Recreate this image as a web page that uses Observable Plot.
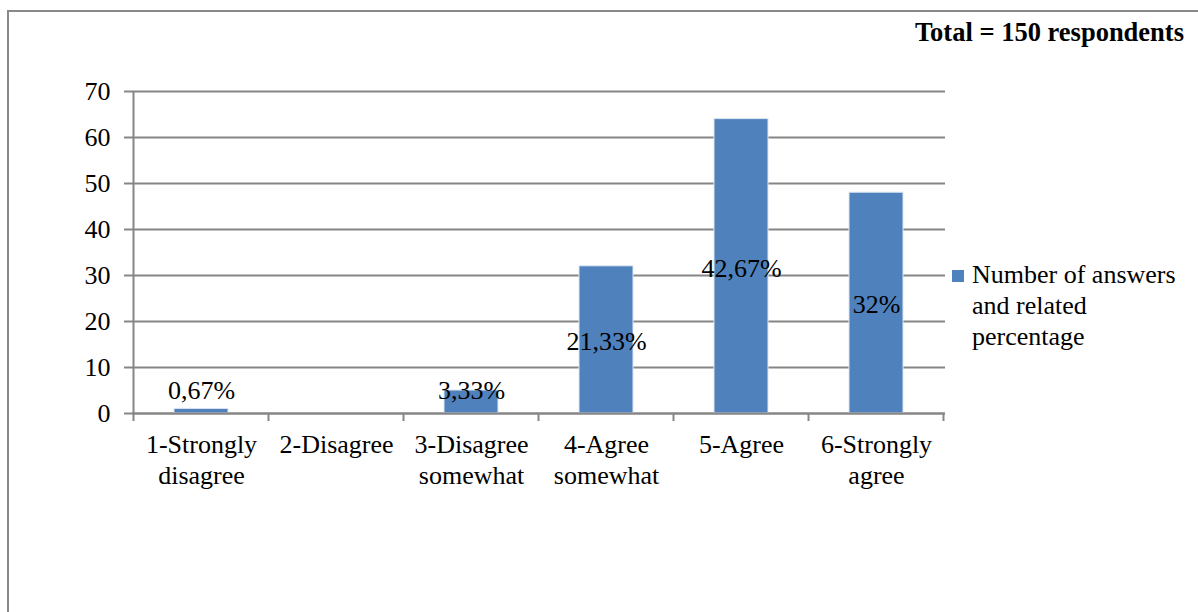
<!DOCTYPE html>
<html>
<head>
<meta charset="utf-8">
<script src="https://cdn.jsdelivr.net/npm/d3@7"></script>
<script src="https://cdn.jsdelivr.net/npm/@observablehq/plot@0.6"></script>
<style>
  html, body { margin: 0; padding: 0; background: #fff; }
  #wrap { position: relative; width: 1198px; height: 612px; overflow: hidden; font-family: "Liberation Serif", "Times New Roman", serif; }
  #frame { position: absolute; left: 7px; top: 10px; width: 1300px; height: 700px; border: 2px solid #898989; box-sizing: border-box; }
  #title { position: absolute; right: 14px; top: 17px; font-size: 26.5px; font-weight: bold; color: #000; white-space: nowrap; }
  #legend { position: absolute; left: 952px; top: 259px; font-size: 26px; line-height: 31px; color: #000; }
  #legend .sw { position: absolute; left: 0; top: 11px; width: 12px; height: 12px; background: #4F81BD; }
  #legend .txt { margin-left: 20px; white-space: pre; }
  #chart { position: absolute; left: 0; top: 0; }
</style>
</head>
<body>
<div id="wrap">
  <div id="frame"></div>
  <div id="chart"></div>
  <div id="title"></div>
  <div id="legend"><div class="sw"></div><div class="txt"></div></div>
</div>
<script>
const categories = ["1-Strongly disagree", "2-Disagree", "3-Disagree somewhat", "4-Agree somewhat", "5-Agree", "6-Strongly agree"];
const tickLabels = ["1-Strongly\ndisagree", "2-Disagree", "3-Disagree\nsomewhat", "4-Agree\nsomewhat", "5-Agree", "6-Strongly\nagree"];
const counts = [1, 0, 5, 32, 64, 48];
const percentLabels = ["0,67%", "", "3,33%", "21,33%", "42,67%", "32%"];
const yTicks = [0, 10, 20, 30, 40, 50, 60, 70];
const titleText = "Total = 150 respondents";
const seriesName = "Number of answers\nand related\npercentage";

document.getElementById("title").textContent = titleText;
document.querySelector("#legend .txt").textContent = seriesName;

const data = categories.map((c, i) => ({cat: c, value: counts[i], label: percentLabels[i], tick: tickLabels[i]}));
const tickMap = new Map(data.map(d => [d.cat, d.tick]));

const grey = "#868686";
const chart = Plot.plot({
  width: 1198,
  height: 612,
  marginLeft: 132,
  marginRight: 253,
  marginTop: 91,
  marginBottom: 199,
  style: {fontFamily: "'Liberation Serif', 'Times New Roman', serif", fontSize: "26px", color: "#000", background: "transparent"},
  x: {domain: categories, paddingInner: 0.6, paddingOuter: 0.3},
  y: {domain: [0, 70]},
  marks: [
    Plot.gridY(yTicks, {stroke: grey, strokeOpacity: 1, strokeWidth: 2}),
    Plot.rectY(data, {x: "cat", y: "value", fill: "#4F81BD", stroke: "#dfe7f2", strokeWidth: 1}),
    Plot.ruleY([0], {stroke: grey, strokeWidth: 2}),
    Plot.axisY(yTicks, {tickSize: 8, tickPadding: 14, stroke: grey, strokeWidth: 2, fill: "#000", fontSize: 26, label: null}),
    Plot.axisX({tickSize: 0, tickPadding: 18, fontSize: 26, fill: "#000", lineHeight: 1.19, tickFormat: d => tickMap.get(d), label: null}),
    Plot.text(data.filter(d => d.label), {x: "cat", y: d => Math.max(d.value / 2, 5.4), text: "label", dy: 2, fontSize: 26, fill: "#000"})
  ]
});
document.getElementById("chart").appendChild(chart);

// category boundary ticks on the x axis, derived from the band scale
const xs = chart.scale("x");
const ys = chart.scale("y");
const svg = d3.select(chart);
const y0 = ys.apply(0);
const half = (xs.step - xs.bandwidth) / 2;
const bounds = categories.map(c => xs.apply(c) - half);
bounds.push(xs.apply(categories[categories.length - 1]) + xs.bandwidth + half);
svg.append("g").selectAll("line").data(bounds).join("line")
  .attr("x1", d => d).attr("x2", d => d)
  .attr("y1", y0).attr("y2", y0 + 8)
  .attr("stroke", grey).attr("stroke-width", 2);
// y axis line
svg.append("line")
  .attr("x1", bounds[0]).attr("x2", bounds[0])
  .attr("y1", ys.apply(70)).attr("y2", y0)
  .attr("stroke", grey).attr("stroke-width", 2);
</script>
</body>
</html>
